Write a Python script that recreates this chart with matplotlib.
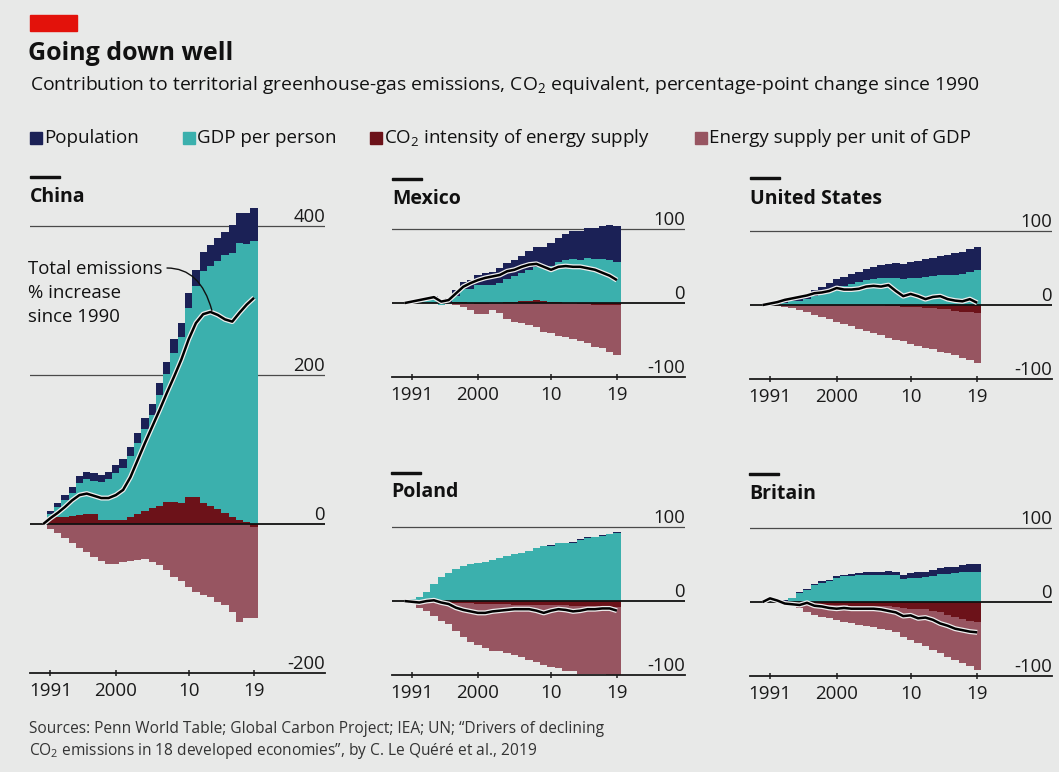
import matplotlib
matplotlib.use("Agg")
import matplotlib.pyplot as plt
import matplotlib.patheffects as pe
from matplotlib.patches import Rectangle
import numpy as np

plt.rcParams['font.family'] = ['Open Sans', 'DejaVu Sans']
plt.rcParams['mathtext.fontset'] = 'custom'
plt.rcParams['mathtext.rm'] = 'Open Sans'
plt.rcParams['mathtext.it'] = 'Open Sans:italic'
plt.rcParams['mathtext.bf'] = 'Open Sans:bold'

# ---- data (percentage-point change since 1990), years 1990-2019 ----
years = np.arange(1990, 2020)

china_pop = [0, 4, 5, 7, 8, 9, 9, 10, 10, 10, 11, 12, 12, 13, 14, 15, 16, 17, 18, 19, 20, 22, 26, 28, 30, 32, 38, 40, 42, 45]
china_gdp = [0, 5, 13, 22, 31, 43, 48, 44, 50, 55, 63, 70, 82, 96, 110, 125, 148, 171, 200, 223, 253, 283, 312, 322, 334, 346, 354, 373, 373, 380]
china_co2 = [0, 8, 10, 10, 11, 12, 13, 14, 6, 5, 5, 6, 10, 13, 18, 22, 25, 30, 30, 28, 37, 37, 28, 25, 20, 15, 10, 5, 3, -4]
china_energy = [0, -6, -12, -19, -26, -32, -37, -44, -49, -53, -53, -51, -49, -48, -47, -51, -55, -62, -71, -77, -84, -91, -95, -98, -104, -108, -118, -132, -126, -122]
china_total = [0, 8, 15, 23, 32, 39, 41, 38, 35, 35, 39, 46, 63, 86, 109, 131, 153, 176, 198, 221, 248, 270, 282, 285, 281, 275, 272, 284, 295, 304]

mexico_pop = [0, 1, 2, 3, 4, 5, 7, 9, 10, 12, 14, 16, 18, 20, 21, 22, 24, 25, 27, 29, 31, 33, 35, 37, 39, 41, 43, 45, 47, 48]
mexico_gdp = [0, 3, 3, 4, 5, -3, -1, 8, 18, 19, 24, 24, 24, 27, 32, 34, 37, 42, 45, 44, 48, 54, 58, 60, 58, 61, 59, 59, 58, 56]
mexico_co2 = [0, 0, 0, 0, 0, 0, 0, 1, 1, 0, -1, -1, 0, 0, 1, 2, 3, 3, 4, 3, 2, 1, 0, 0, -1, -1, -2, -2, -2, -2]
mexico_energy = [0, 0, 0, 0, 0, 0, 0, -2, -5, -10, -14, -14, -10, -14, -21, -25, -27, -30, -32, -39, -41, -44, -46, -48, -50, -53, -57, -59, -64, -68]
mexico_total = [0, 2, 4, 6, 8, 2, 4, 13, 22, 27, 31, 34, 36, 38, 43, 45, 49, 52, 53, 49, 45, 49, 50, 49, 49, 47, 45, 41, 37, 31]

us_pop = [0, 1, 2, 3, 4, 6, 7, 8, 9, 10, 11, 12, 13, 14, 15, 17, 18, 19, 20, 21, 22, 23, 24, 25, 26, 28, 29, 30, 31, 32]
us_gdp = [0, 1, 2, 3, 5, 6, 8, 12, 16, 20, 24, 26, 29, 31, 34, 35, 36, 37, 37, 35, 36, 37, 38, 39, 40, 40, 41, 42, 45, 47]
us_co2 = [0, 0, 0, 0, 0, 0, 0, 0, 0, 0, 0, 0, 0, 0, 0, 0, 0, -1, -1, -2, -2, -3, -4, -4, -5, -6, -8, -9, -10, -11]
us_energy = [0, 0, -1, -2, -4, -7, -10, -13, -16, -19, -23, -26, -29, -32, -35, -38, -41, -43, -46, -47, -50, -52, -54, -56, -58, -59, -60, -62, -64, -67]
us_total = [0, 2, 4, 7, 9, 11, 13, 16, 17, 19, 23, 21, 21, 22, 25, 26, 25, 27, 19, 12, 15, 12, 8, 11, 12, 8, 6, 5, 8, 3]

poland_pop = [0, 0, 0, 0, 0, 0, 0, 0, 0, 0, 0, 0, 0, 0, 0, 0, 0, 0, 0, 0, 1, 1, 1, 1, 1, 1, 1, 1, 1, 1]
poland_gdp = [0, 3, 6, 12, 23, 32, 38, 43, 47, 50, 52, 53, 56, 58, 61, 63, 65, 68, 72, 74, 75, 78, 78, 79, 83, 85, 86, 88, 90, 92]
poland_co2 = [0, 0, -1, -1, -2, -2, -2, -3, -3, -3, -4, -4, -4, -4, -4, -5, -5, -5, -5, -6, -6, -6, -6, -7, -7, -7, -7, -8, -8, -8]
poland_energy = [0, -4, -8, -12, -18, -25, -29, -37, -46, -53, -56, -59, -63, -64, -66, -68, -71, -75, -77, -81, -83, -85, -88, -88, -91, -91, -91, -90, -92, -92]
poland_total = [0, -1, -2, 0, 1, -2, -4, -9, -12, -14, -16, -16, -14, -13, -12, -11, -11, -11, -13, -16, -13, -11, -12, -14, -13, -11, -11, -10, -10, -13]

britain_pop = [0, 0, 0, 1, 1, 1, 1, 1, 2, 2, 2, 2, 3, 3, 3, 4, 4, 5, 5, 5, 6, 7, 7, 8, 8, 9, 9, 10, 10, 11]
britain_gdp = [0, 2, 1, 2, 5, 12, 16, 23, 26, 28, 33, 35, 35, 36, 37, 37, 37, 37, 36, 31, 33, 33, 34, 35, 38, 38, 39, 40, 41, 41]
britain_co2 = [0, 0, -1, -1, -2, -3, -3, -4, -4, -4, -4, -4, -5, -5, -5, -5, -6, -6, -7, -8, -9, -10, -10, -12, -14, -17, -20, -23, -25, -27]
britain_energy = [0, 0, 0, -1, -2, -5, -10, -14, -16, -18, -20, -23, -24, -26, -28, -29, -30, -32, -34, -39, -42, -46, -50, -53, -55, -57, -58, -60, -62, -65]
britain_total = [0, 5, 2, -2, -3, -4, -1, -5, -6, -8, -9, -8, -9, -9, -9, -9, -10, -12, -14, -19, -18, -22, -21, -24, -29, -32, -36, -38, -40, -41]

tick_years = [1991, 2000, 2010, 2019]
tick_labels = ['1991', '2000', '10', '19']

NAVY = '#1b2156'
TEAL = '#3bb0ad'
MAROON = '#6c1219'
MAUVE = '#975561'
BG = '#e8e9e8'

W, H = 1059, 772
fig = plt.figure(figsize=(W / 100, H / 100), dpi=100, facecolor=BG)


def px_axes(left, top, right, bottom):
    return fig.add_axes([left / W, 1 - bottom / H, (right - left) / W, (bottom - top) / H])


def draw_panel(ax, pop, gdp, co2, energy, total, ylim, grid, xlim):
    # one-year-wide steps; positive parts stacked upward, negative downward.
    # each layer is filled from zero to its cumulative edge, outermost first
    edges = np.append(years - 0.5, years[-1] + 0.5)
    layers = [(co2, MAROON), (gdp, TEAL), (pop, NAVY), (energy, MAUVE)]
    pos_cum, neg_cum = [], []
    pos_base = np.zeros(len(years))
    neg_base = np.zeros(len(years))
    for vals, col in layers:
        v = np.asarray(vals, dtype=float)
        pos_base = pos_base + np.clip(v, 0, None)
        neg_base = neg_base + np.clip(v, None, 0)
        pos_cum.append((pos_base.copy(), col))
        neg_cum.append((neg_base.copy(), col))
    for cum, col in reversed(pos_cum + neg_cum):
        if not np.any(cum):
            continue
        ax.fill_between(edges, 0, np.append(cum, cum[-1]), step='post', color=col,
                        linewidth=0, zorder=2)
    ax.plot(years, total, color='black', lw=1.8, zorder=5, solid_capstyle='butt',
            path_effects=[pe.Stroke(linewidth=3.6, foreground='#eeeeee'), pe.Normal()])

    ax.set_xlim(*xlim)
    ax.set_ylim(*ylim)
    ax.set_facecolor('none')
    for s in ['top', 'left', 'right']:
        ax.spines[s].set_visible(False)
    ax.spines['bottom'].set_linewidth(1.3)
    ax.spines['bottom'].set_color('#1a1a1a')
    ax.set_yticks([])
    ax.set_xticks(tick_years)
    ax.set_xticklabels(tick_labels, fontsize=13.5, color='#1a1a1a')
    ax.tick_params(axis='x', length=5, width=1.1, direction='inout', pad=4, color='#1a1a1a')

    trans = ax.get_yaxis_transform()
    for g in grid:
        if g == 0:
            ax.axhline(0, color='#111111', lw=1.3, zorder=4)
        elif g != ylim[0]:
            ax.axhline(g, color='#4a4a4a', lw=0.9, zorder=1)
        ax.text(1.0, g, '%d' % g, transform=trans, ha='right', va='bottom',
                fontsize=13.3, color='#1a1a1a', zorder=6)


ax_china = px_axes(30, 204, 325, 673)
draw_panel(ax_china, china_pop, china_gdp, china_co2, china_energy, china_total,
           (-200, 430), [400, 200, 0, -200], (1988.2, 2028.75))
ax_mex = px_axes(392, 218, 685, 377)
draw_panel(ax_mex, mexico_pop, mexico_gdp, mexico_co2, mexico_energy, mexico_total,
           (-100, 115), [100, 0, -100], (1988.27, 2028.3))
ax_us = px_axes(750, 220, 1052, 379)
draw_panel(ax_us, us_pop, us_gdp, us_co2, us_energy, us_total,
           (-100, 115), [100, 0, -100], (1988.3, 2029.1))
ax_pol = px_axes(392, 516, 685, 675)
draw_panel(ax_pol, poland_pop, poland_gdp, poland_co2, poland_energy, poland_total,
           (-100, 115), [100, 0, -100], (1988.27, 2028.3))
ax_gb = px_axes(750, 517, 1052, 676)
draw_panel(ax_gb, britain_pop, britain_gdp, britain_co2, britain_energy, britain_total,
           (-100, 115), [100, 0, -100], (1988.3, 2029.1))


def fx(x):
    return x / W


def fy(y):
    return 1 - y / H


# panel titles with short rule above
for name, x, ty, ry in [('China', 30, 197, 177), ('Mexico', 392, 199, 179),
                        ('United States', 750, 199, 178), ('Poland', 391, 492, 473),
                        ('Britain', 749, 494, 474)]:
    fig.add_artist(Rectangle((fx(x), fy(ry + 1)), 30 / W, 2 / H, color='#111111',
                             transform=fig.transFigure))
    fig.text(fx(x), fy(ty), name, fontsize=14, fontweight='bold', va='center',
             ha='left', color='#111111')

# header
fig.add_artist(Rectangle((fx(30), fy(31)), 47 / W, 16 / H, color='#e3120b',
                         transform=fig.transFigure))
fig.text(fx(28), fy(54), 'Going down well', fontsize=18, fontweight='bold',
         va='center', ha='left', color='#111111')
fig.text(fx(30), fy(85), 'Contribution to territorial greenhouse-gas emissions, CO$_2$ equivalent, '
         'percentage-point change since 1990', fontsize=13.9, va='center', ha='left', color='#111111')

# legend
legend_items = [('Population', NAVY, 30), ('GDP per person', TEAL, 183),
                ('CO$_2$ intensity of energy supply', MAROON, 370),
                ('Energy supply per unit of GDP', MAUVE, 695)]
for label, col, x in legend_items:
    fig.add_artist(Rectangle((fx(x), fy(144)), 12 / W, 12 / H, color=col,
                             transform=fig.transFigure))
    fig.text(fx(x + 14), fy(138), label, fontsize=13.5, va='center', ha='left', color='#111111')

# annotation on China
fig.text(fx(28), fy(293), 'Total emissions\n% increase\nsince 1990', fontsize=13.4,
         va='center', ha='left', linespacing=1.4, color='#111111')
ax_china.annotate('', xy=(2013.2, 287), xycoords='data',
                  xytext=(fx(167), fy(268)), textcoords='figure fraction',
                  arrowprops=dict(arrowstyle='-', color='#111111', lw=1.0,
                                  connectionstyle='angle3,angleA=0,angleB=105',
                                  shrinkA=0, shrinkB=0), zorder=7)

# sources
fig.text(fx(29), fy(729), 'Sources: Penn World Table; Global Carbon Project; IEA; UN; \u201cDrivers of declining',
         fontsize=11.2, va='center', ha='left', color='#333333')
fig.text(fx(29), fy(751), 'CO$_2$ emissions in 18 developed economies\u201d, by C. Le Qu\u00e9r\u00e9 et al., 2019',
         fontsize=11.2, va='center', ha='left', color='#333333')

fig.savefig('out.png', dpi=100, facecolor=BG)
